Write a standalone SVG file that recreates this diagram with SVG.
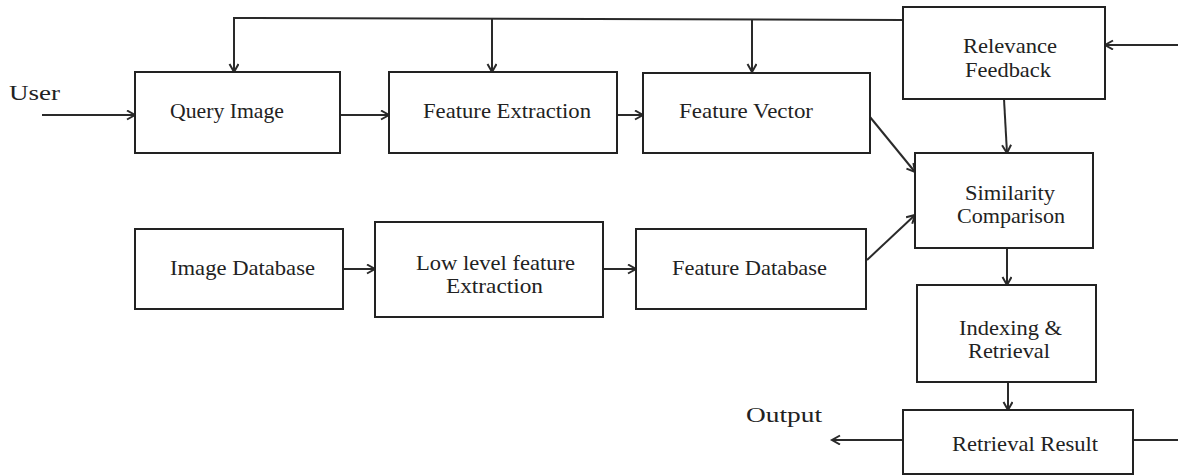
<svg xmlns="http://www.w3.org/2000/svg" width="1178" height="476" viewBox="0 0 1178 476">
<style>
.box{fill:#fff;stroke:#222;stroke-width:2}
.t{font-family:"Liberation Serif","Times New Roman",serif;font-size:21px;fill:#222}
.c{fill:none;stroke:#2a2a2a;stroke-width:2}
</style>
<defs>
<marker id="ah" markerUnits="userSpaceOnUse" markerWidth="12" markerHeight="12" refX="9" refY="5" orient="auto">
<path d="M1,0.5 L9,5 L1,9.5" fill="none" stroke="#2a2a2a" stroke-width="2"/>
</marker>
</defs>
<rect width="1178" height="476" fill="#fff"/>
<g id="connectors">
<path class="c" d="M903,20 L234,18 L234,72" marker-end="url(#ah)"/>
<path class="c" d="M492,18 V72" marker-end="url(#ah)"/>
<path class="c" d="M752,19 V72" marker-end="url(#ah)"/>
<path class="c" d="M42,115 H135" marker-end="url(#ah)"/>
<path class="c" d="M340,115 H389" marker-end="url(#ah)"/>
<path class="c" d="M617,115 H643" marker-end="url(#ah)"/>
<path class="c" d="M1178,45 H1105" marker-end="url(#ah)"/>
<path class="c" d="M1004,99 L1007,153" marker-end="url(#ah)"/>
<path class="c" d="M870,117 L915,172" marker-end="url(#ah)"/>
<path class="c" d="M867,260 L915,215" marker-end="url(#ah)"/>
<path class="c" d="M343,269 H375" marker-end="url(#ah)"/>
<path class="c" d="M603,269 H636" marker-end="url(#ah)"/>
<path class="c" d="M1007,248 V285" marker-end="url(#ah)"/>
<path class="c" d="M1008,382 V410" marker-end="url(#ah)"/>
<path class="c" d="M903,440 H832" marker-end="url(#ah)"/>
<path class="c" d="M1133,440 H1178"/>
</g>
<g id="user"><text class="t" x="9" y="100" textLength="51" lengthAdjust="spacingAndGlyphs" style="font-size:22px">User</text></g>
<g id="output"><text class="t" x="746" y="422" textLength="76" lengthAdjust="spacingAndGlyphs">Output</text></g>
<g id="query-image">
<rect class="box" x="135" y="72" width="205" height="81"/>
<text class="t" x="170" y="118" textLength="114" lengthAdjust="spacingAndGlyphs">Query Image</text>
</g>
<g id="feature-extraction">
<rect class="box" x="389" y="72" width="228" height="81"/>
<text class="t" x="423" y="118" textLength="168" lengthAdjust="spacingAndGlyphs">Feature Extraction</text>
</g>
<g id="feature-vector">
<rect class="box" x="643" y="73" width="227" height="80"/>
<text class="t" x="679" y="118" textLength="134" lengthAdjust="spacingAndGlyphs">Feature Vector</text>
</g>
<g id="relevance-feedback">
<rect class="box" x="903" y="7" width="202" height="92"/>
<text class="t" x="963" y="53" textLength="94" lengthAdjust="spacingAndGlyphs">Relevance</text>
<text class="t" x="965" y="77" textLength="86" lengthAdjust="spacingAndGlyphs">Feedback</text>
</g>
<g id="similarity-comparison">
<rect class="box" x="915" y="153" width="178" height="95"/>
<text class="t" x="965" y="200" textLength="90" lengthAdjust="spacingAndGlyphs">Similarity</text>
<text class="t" x="957" y="223" textLength="108" lengthAdjust="spacingAndGlyphs">Comparison</text>
</g>
<g id="image-database">
<rect class="box" x="135" y="229" width="208" height="80"/>
<text class="t" x="170" y="275" textLength="145" lengthAdjust="spacingAndGlyphs">Image Database</text>
</g>
<g id="low-level-feature-extraction">
<rect class="box" x="375" y="222" width="228" height="95"/>
<text class="t" x="416" y="270" textLength="159" lengthAdjust="spacingAndGlyphs">Low level feature</text>
<text class="t" x="446" y="293" textLength="97" lengthAdjust="spacingAndGlyphs">Extraction</text>
</g>
<g id="feature-database">
<rect class="box" x="636" y="229" width="230" height="80"/>
<text class="t" x="672" y="275" textLength="155" lengthAdjust="spacingAndGlyphs">Feature Database</text>
</g>
<g id="indexing-retrieval">
<rect class="box" x="917" y="285" width="179" height="97"/>
<text class="t" x="959" y="335" textLength="103" lengthAdjust="spacingAndGlyphs">Indexing &amp;</text>
<text class="t" x="968" y="358" textLength="82" lengthAdjust="spacingAndGlyphs">Retrieval</text>
</g>
<g id="retrieval-result">
<rect class="box" x="903" y="410" width="230" height="64"/>
<text class="t" x="952" y="451" textLength="146" lengthAdjust="spacingAndGlyphs">Retrieval Result</text>
</g>
</svg>
